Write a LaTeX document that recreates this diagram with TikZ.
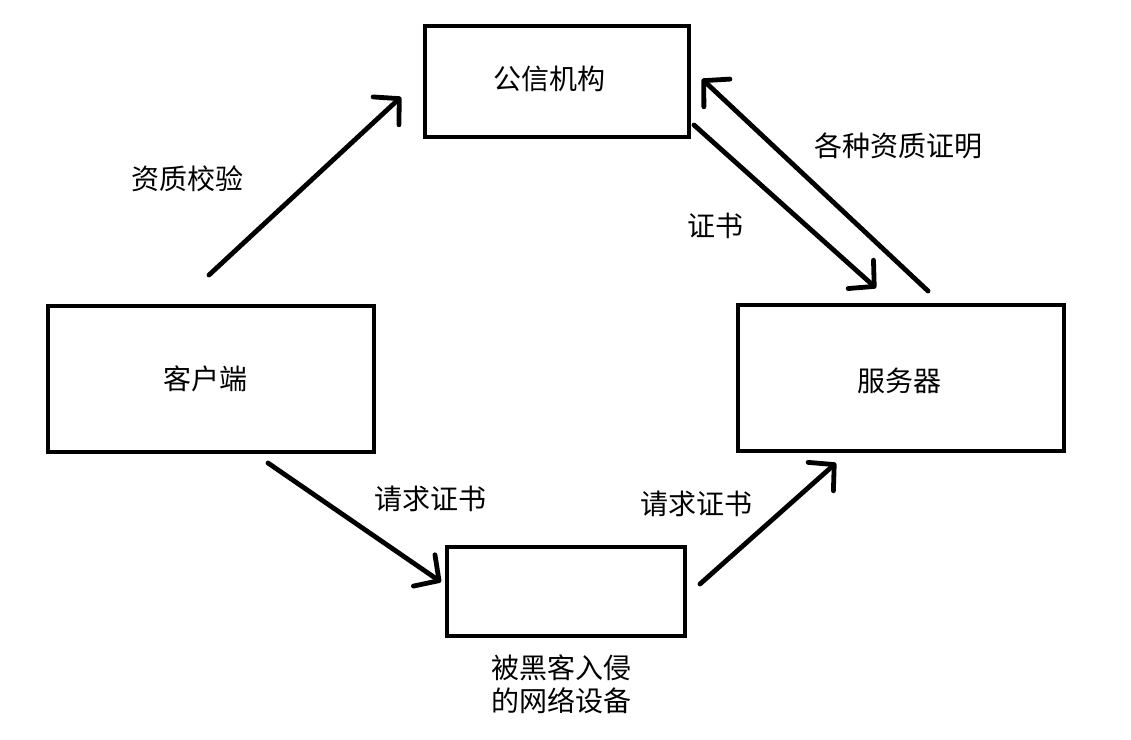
\documentclass[tikz,border=0pt]{standalone}
\usepackage{fontspec}
\setmainfont{Noto Sans CJK SC}
\usetikzlibrary{arrows.meta}
\begin{document}
\begin{tikzpicture}[x=1pt,y=-1pt,
  box/.style={draw,line width=4.8pt,inner sep=0pt},
  lbl/.style={font=\fontsize{28}{34}\selectfont,inner sep=0pt,align=center},
  conn/.style={line width=4.8pt,line cap=round,line join=round,
    -{Straight Barb[length=18pt,width=38pt,line cap=round,line join=round]}}]
\useasboundingbox (0,0) rectangle (1131,739);
\node[box,minimum width=264pt,minimum height=111pt] (ca) at (557,81.5) {};
\node[lbl] (caL) at (549,79) {公信机构};
\node[box,minimum width=326pt,minimum height=146pt] (client) at (211,379) {};
\node[lbl] (clientL) at (205,379) {客户端};
\node[box,minimum width=326pt,minimum height=146pt] (server) at (901,378) {};
\node[lbl] (serverL) at (899,381) {服务器};
\node[box,minimum width=238pt,minimum height=89pt] (hack) at (566,591.5) {};
\node[lbl,font=\fontsize{28}{33}\selectfont] (hackL) at (561,684) {被黑客入侵\\的网络设备};
\node[lbl] (l1) at (187,179) {资质校验};
\node[lbl] (l2) at (898,146) {各种资质证明};
\node[lbl] (l3) at (715,226) {证书};
\node[lbl] (l4) at (430,499) {请求证书};
\node[lbl] (l5) at (696,504) {请求证书};
\coordinate (a1s) at (209,275);
\coordinate (a1e) at (401,97);
\coordinate (a2s) at (694,125);
\coordinate (a2e) at (876,288);
\coordinate (a3s) at (928,291);
\coordinate (a3e) at (702,79);
\coordinate (a4s) at (268,463);
\coordinate (a4e) at (441,582);
\coordinate (a5s) at (700,584);
\coordinate (a5e) at (836,463);
\draw[conn] (a1s) -- (a1e);
\draw[conn] (a2s) -- (a2e);
\draw[conn] (a3s) -- (a3e);
\draw[conn] (a4s) -- (a4e);
\draw[conn] (a5s) -- (a5e);
\end{tikzpicture}
\end{document}
